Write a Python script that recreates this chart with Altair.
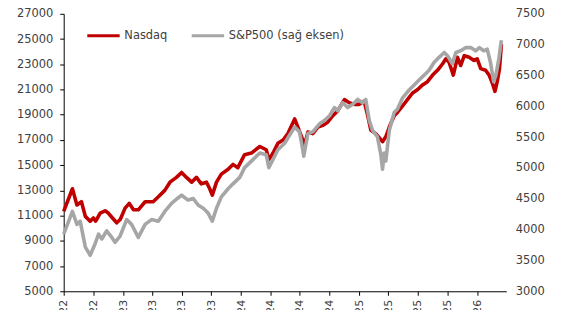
import json
import altair as alt
import pandas as pd

# ---------------- data ----------------
nasdaq_dates = [
    "2022-07-01", "2022-07-28", "2022-08-11", "2022-08-25", "2022-09-06", "2022-09-21", "2022-10-01",
    "2022-10-08", "2022-10-22", "2022-11-06", "2022-11-16", "2022-11-29", "2022-12-12", "2022-12-23",
    "2023-01-07", "2023-01-20", "2023-02-02", "2023-02-17", "2023-03-10", "2023-04-04", "2023-04-20",
    "2023-05-10", "2023-05-26", "2023-06-15", "2023-07-01", "2023-07-16", "2023-08-01", "2023-08-16",
    "2023-08-31", "2023-09-16", "2023-09-26", "2023-10-04", "2023-10-17", "2023-11-01", "2023-11-22",
    "2023-12-07", "2023-12-22",
    "2024-01-12", "2024-02-02", "2024-02-28", "2024-03-19", "2024-03-27", "2024-04-09", "2024-04-24",
    "2024-05-10", "2024-05-25", "2024-06-15", "2024-06-25", "2024-07-10", "2024-07-15", "2024-07-26",
    "2024-08-10", "2024-08-26", "2024-09-10", "2024-09-25", "2024-10-11", "2024-10-26", "2024-11-16",
    "2024-12-01", "2024-12-17",
    "2025-01-01", "2025-01-16", "2025-01-26", "2025-02-06", "2025-02-21", "2025-03-14", "2025-03-24",
    "2025-04-04", "2025-04-19", "2025-04-29", "2025-05-15", "2025-05-30", "2025-06-15", "2025-06-30",
    "2025-07-16", "2025-07-31", "2025-08-16", "2025-08-31", "2025-09-16", "2025-09-26", "2025-10-06",
    "2025-10-19", "2025-11-01", "2025-11-11", "2025-11-22", "2025-12-07", "2025-12-22",
    "2026-01-01", "2026-01-12", "2026-01-27", "2026-02-07", "2026-02-17", "2026-02-25", "2026-03-04",
    "2026-03-11", "2026-03-17",
]
nasdaq_values = [
    11330, 13130, 11840, 12100, 10940, 10560, 10810, 10560, 11200, 11380, 11200, 10810, 10430, 10690,
    11590, 11970, 11460, 11460, 12100, 12100, 12490, 13000, 13650, 14030, 14420, 14030, 13650, 14030,
    13520, 13650, 13130, 12620, 13650, 14290, 14670, 15060, 14800,
    15830, 15960, 16480, 16220, 15440, 15960, 16730, 16990, 17500, 18660, 18020, 17000, 16480, 17630,
    17500, 18020, 18150, 18400, 18920, 19300, 20200, 19950, 19820,
    19820, 20080, 19050, 17760, 17500, 16860, 17250, 18020, 18920, 19180, 19690, 20200, 20720, 20980,
    21360, 21620, 22140, 22520, 23040, 23430, 23160, 22140, 23550, 22900, 23680, 23550, 23300,
    23430, 22650, 22520, 22140, 21490, 20850, 21620, 22650, 24600,
]

sp_dates = [
    "2022-07-01", "2022-07-28", "2022-08-11", "2022-08-21", "2022-09-06", "2022-09-21", "2022-10-04",
    "2022-10-17", "2022-10-27", "2022-11-11", "2022-11-27", "2022-12-07", "2022-12-23",
    "2023-01-12", "2023-01-27", "2023-02-17", "2023-03-10", "2023-03-30", "2023-04-20", "2023-05-10",
    "2023-05-31", "2023-06-18", "2023-07-01", "2023-07-21", "2023-08-06", "2023-08-21", "2023-09-06",
    "2023-09-21", "2023-10-04", "2023-10-17", "2023-11-01", "2023-11-22", "2023-12-07", "2023-12-28",
    "2024-01-12", "2024-02-02", "2024-02-28", "2024-03-19", "2024-03-27", "2024-04-09", "2024-04-24",
    "2024-05-15", "2024-05-30", "2024-06-15", "2024-06-30", "2024-07-10", "2024-07-13", "2024-07-26",
    "2024-08-10", "2024-08-31", "2024-09-15", "2024-10-01", "2024-10-16", "2024-10-26", "2024-11-11",
    "2024-11-26", "2024-12-12", "2024-12-27",
    "2025-01-11", "2025-01-21", "2025-02-01", "2025-02-11", "2025-02-26", "2025-03-08", "2025-03-14",
    "2025-03-19", "2025-03-24", "2025-04-04", "2025-04-19", "2025-04-29", "2025-05-15", "2025-06-05",
    "2025-06-20", "2025-07-05", "2025-07-21", "2025-08-05", "2025-08-21", "2025-09-05", "2025-09-21",
    "2025-10-01", "2025-10-16", "2025-10-27", "2025-11-11", "2025-11-27", "2025-12-12", "2025-12-27",
    "2026-01-08", "2026-01-21", "2026-02-01", "2026-02-11", "2026-02-21", "2026-02-28", "2026-03-09",
    "2026-03-17",
]
sp_values = [
    3927, 4295, 4085, 4137, 3715, 3584, 3742, 3927, 3848, 3979, 3873, 3794, 3900,
    4163, 4085, 3873, 4085, 4163, 4137, 4295, 4425, 4505, 4558, 4479, 4505, 4400, 4347,
    4268, 4137, 4347, 4531, 4663, 4742, 4847,
    5005, 5111, 5242, 5215, 5005, 5137, 5295, 5400, 5531, 5663, 5585, 5295, 5190, 5558,
    5585, 5716, 5768, 5847, 5979, 5926, 6058, 5979, 6032, 6111,
    6058, 6111, 5768, 5610, 5506, 5242, 4979, 5242, 5111, 5610, 5900, 5953, 6137, 6268,
    6347, 6426, 6505, 6584, 6715, 6794, 6873, 6821, 6690, 6873, 6900, 6952, 6952, 6900,
    6952, 6900, 6926, 6715, 6400, 6505, 6769, 7070,
]

series_names = ["Nasdaq", "S&P500 (sağ eksen)"]
series_colors = ["#C00000", "#A6A6A6"]
left_ticks = list(range(5000, 27001, 2000))
right_ticks = list(range(3000, 7501, 500))
quarter_ticks = [(2022, 7), (2022, 10), (2023, 1), (2023, 4), (2023, 7), (2023, 10),
                 (2024, 1), (2024, 4), (2024, 7), (2024, 10), (2025, 1), (2025, 4),
                 (2025, 7), (2025, 10), (2026, 1)]
month_names = ["Oca", "Şub", "Mar", "Nis", "May", "Haz", "Tem", "Ağu", "Eyl", "Eki", "Kas", "Ara"]

# ---------------- chart ----------------
nasdaq_df = pd.DataFrame({"date": nasdaq_dates, "value": nasdaq_values, "series": series_names[0]})
sp_df = pd.DataFrame({"date": sp_dates, "value": sp_values, "series": series_names[1]})

FONT = "DejaVu Sans"
TXT = "#404040"
FS = 11.5

color_scale = alt.Scale(domain=series_names, range=series_colors)
legend = alt.Legend(
    title=None, orient="none", legendX=22, legendY=4, direction="horizontal",
    symbolType="stroke", symbolStrokeWidth=3, symbolSize=1060,
    labelFont=FONT, labelFontSize=FS, labelColor=TXT, columnPadding=17, labelOffset=3,
)
color_enc = alt.Color("series:N", scale=color_scale, legend=legend)

label_expr = json.dumps(month_names, ensure_ascii=False) + "[month(datum.value)] + '.' + timeFormat(datum.value, '%y')"
x_enc = alt.X(
    "date:T",
    title=None,
    scale=alt.Scale(domain=[alt.DateTime(year=2022, month=7, date=1),
                            alt.DateTime(year=2026, month=4, date=1)], nice=False),
    axis=alt.Axis(
        values=[alt.DateTime(year=y, month=m, date=1) for y, m in quarter_ticks],
        labelExpr=label_expr, labelAngle=270, labelFont=FONT, labelFontSize=11,
        labelColor=TXT, labelPadding=4, tickSize=4, tickColor="#000000",
        domainColor="#000000", grid=False, labelOverlap=False, labelFlush=False,
    ),
)

nasdaq_line = alt.Chart(nasdaq_df).mark_line(strokeWidth=3.6, strokeJoin="round").encode(
    x=x_enc,
    y=alt.Y(
        "value:Q", title=None,
        scale=alt.Scale(domain=[5000, 27000], nice=False, zero=False),
        axis=alt.Axis(values=left_ticks, orient="left", format="d", grid=False,
                      tickSize=4, tickColor="#000000", domainColor="#000000",
                      labelPadding=7, labelFont=FONT, labelFontSize=FS, labelColor=TXT),
    ),
    color=color_enc,
)

sp_line = alt.Chart(sp_df).mark_line(strokeWidth=3.6, strokeJoin="round").encode(
    x=x_enc,
    y=alt.Y(
        "value:Q", title=None,
        scale=alt.Scale(domain=[3000, 7500], nice=False, zero=False),
        axis=alt.Axis(values=right_ticks, orient="right", format="d", grid=False,
                      ticks=False, domain=False, labelPadding=9,
                      labelFont=FONT, labelFontSize=FS, labelColor=TXT),
    ),
    color=color_enc,
)

chart = (
    alt.layer(nasdaq_line, sp_line)
    .resolve_scale(y="independent")
    .properties(
        width=445, height=279,
        padding={"left": 56, "top": 5, "right": 50, "bottom": 18},
        autosize=alt.AutoSizeParams(type="none"),
        background="white",
    )
    .configure_view(stroke=None)
)

chart.save("out.html", embed_options={"renderer": "svg", "actions": False})
